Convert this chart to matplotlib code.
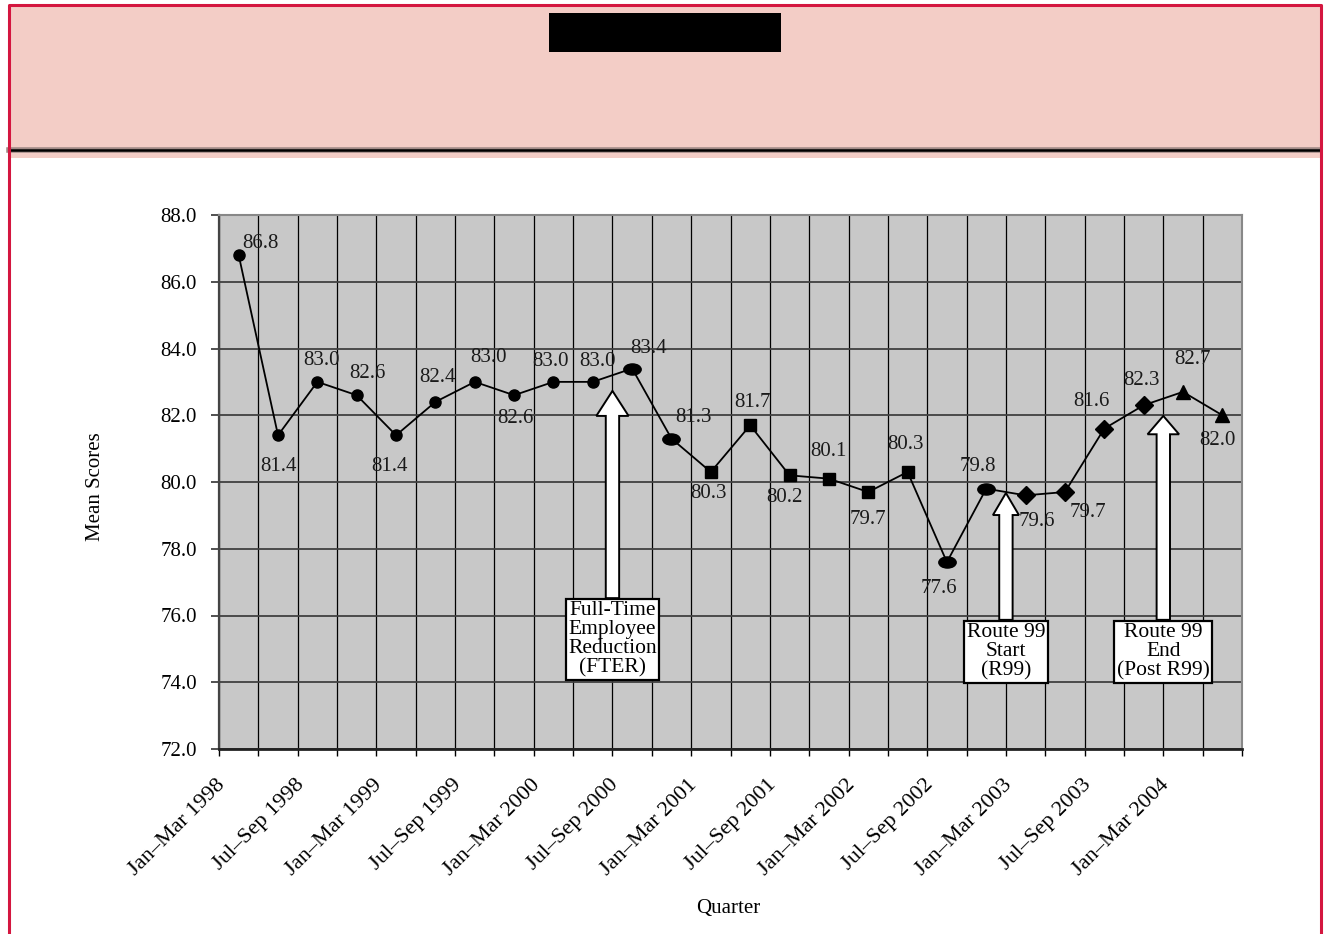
import matplotlib
matplotlib.use('Agg')
import matplotlib.pyplot as plt
import numpy as np
from matplotlib.patches import Rectangle, Polygon
from matplotlib.path import Path
from matplotlib.transforms import Affine2D, ScaledTranslation
from matplotlib.lines import Line2D

plt.rcParams['font.family'] = ['Liberation Serif', 'DejaVu Serif']

# data
quarters = ['Jan–Mar 1998', 'Apr–Jun 1998', 'Jul–Sep 1998', 'Oct–Dec 1998',
            'Jan–Mar 1999', 'Apr–Jun 1999', 'Jul–Sep 1999', 'Oct–Dec 1999',
            'Jan–Mar 2000', 'Apr–Jun 2000', 'Jul–Sep 2000', 'Oct–Dec 2000',
            'Jan–Mar 2001', 'Apr–Jun 2001', 'Jul–Sep 2001', 'Oct–Dec 2001',
            'Jan–Mar 2002', 'Apr–Jun 2002', 'Jul–Sep 2002', 'Oct–Dec 2002',
            'Jan–Mar 2003', 'Apr–Jun 2003', 'Jul–Sep 2003', 'Oct–Dec 2003',
            'Jan–Mar 2004', 'Apr–Jun 2004']
scores = [86.8, 81.4, 83.0, 82.6, 81.4, 82.4, 83.0, 82.6, 83.0, 83.0,
          83.4, 81.3, 80.3, 81.7, 80.2, 80.1, 79.7, 80.3, 77.6, 79.8,
          79.6, 79.7, 81.6, 82.3, 82.7, 82.0]

event_text = ['Full-Time\nEmployee\nReduction\n(FTER)',
              'Route 99\nStart\n(R99)',
              'Route 99\nEnd\n(Post R99)']
event_after = [9, 19, 23]   # arrow sits right after this quarter

# styles
shape = ['o'] * 10 + ['oval'] * 2 + ['s'] * 6 + ['oval'] * 2 + ['D'] * 4 + ['^'] * 2
# label offsets in pixels (dx, dy)
lab_off = [(22, 12), (0, -31), (4, 21), (11, 22), (-7, -31), (2, 24), (14, 24),
           (1, -23), (-3, 20), (5, 20), (16, 20), (22, 21), (-2, -22), (2, 23),
           (-5, -22), (0, 27), (0, -27), (-2, 27), (-8, -26), (-8, 22), (11, -26),
           (23, -20), (-13, 27), (-2, 25), (10, 32), (-5, -25)]
arrow_tip = [82.73, 79.67, 81.98]
box_top = [76.52, 75.87, 75.87]
head_w = [0.82, 0.66, 0.80]
head_l = [0.75, 0.66, 0.55]
shaft_w = 0.34

W, H = 1324, 934
fig = plt.figure(figsize=(W / 100, H / 100), dpi=100)

def fx(px):
    return px / W

def fy(py):
    return 1 - py / H

# header band
fig.patches.append(Rectangle((fx(9), fy(158)), fx(1320 - 9), (158 - 6) / H,
                             transform=fig.transFigure, fc='#f3cdc6', ec='none', zorder=0))
fig.patches.append(Rectangle((fx(549), fy(52)), fx(781 - 549), (52 - 13) / H,
                             transform=fig.transFigure, fc='black', ec='none', zorder=1))
fig.lines.append(Line2D([fx(9), fx(1320)], [fy(149.5), fy(149.5)], transform=fig.transFigure,
                        color='#a08a86', lw=4, zorder=1))
fig.lines.append(Line2D([fx(9), fx(1320)], [fy(149.5), fy(149.5)], transform=fig.transFigure,
                        color='black', lw=1.8, zorder=2))
red = '#d4163f'
fig.lines.append(Line2D([fx(9), fx(9), fx(1321), fx(1321)], [0, fy(5), fy(5), 0],
                        transform=fig.transFigure, color=red, lw=2.2, zorder=3))

ax = fig.add_axes([fx(219), fy(749), fx(1242 - 219), (749 - 215) / H])
ax.set_facecolor('#c8c8c8')
x = np.arange(len(scores))
y = np.array(scores)

ax.plot(x, y, color='black', lw=1.3, zorder=3)

oval = Path.unit_circle().transformed(Affine2D().scale(1, 0.64))
mk = {'o': ('o', 8), 'oval': (oval, 12.5), 's': ('s', 9), 'D': ('D', 9), '^': ('^', 10)}
for kind, (m, ms) in mk.items():
    idx = [i for i, s in enumerate(shape) if s == kind]
    ax.plot(x[idx], y[idx], ls='none', marker=m, ms=ms, color='black', zorder=4)

for i, v in enumerate(scores):
    dx, dy = lab_off[i]
    ax.annotate(f'{v:.1f}', (x[i], v), xytext=(dx * 0.72, dy * 0.72), textcoords='offset points',
                ha='center', va='center', fontsize=15, color='#1a1a1a', zorder=5)

# event arrows and boxes
for k, txt in enumerate(event_text):
    cx = event_after[k] + 0.5
    tip, base = arrow_tip[k], box_top[k]
    hw, hl, sw = head_w[k] / 2, head_l[k], shaft_w / 2
    pts = [(cx - sw, base), (cx - sw, tip - hl), (cx - hw, tip - hl), (cx, tip),
           (cx + hw, tip - hl), (cx + sw, tip - hl), (cx + sw, base)]
    ax.add_patch(Polygon(pts, closed=True, fc='white', ec='black', lw=1.4, zorder=6))
    ax.text(cx, base - 0.1, txt, ha='center', va='top', fontsize=15.5, linespacing=1.0,
            bbox=dict(boxstyle='square,pad=0.12', fc='white', ec='black', lw=1.6), zorder=7)

ax.set_xlim(-0.5, 25.5)
ax.set_ylim(72, 88)
ax.set_yticks(np.arange(72, 88.1, 2))
ax.set_yticklabels([f'{t:.1f}' for t in np.arange(72, 88.1, 2)])
ax.set_xticks(x[::2])
ax.set_xticklabels(quarters[::2], rotation=45, ha='right', va='top', rotation_mode='anchor')
ax.set_xticks(np.arange(-0.5, 26, 1), minor=True)
ax.tick_params(axis='x', which='major', length=0, pad=19, labelsize=16)
ax.tick_params(axis='x', which='minor', length=5, width=1, color='black')
ax.tick_params(axis='y', length=6, width=1.2, pad=10, labelsize=15, color='#333333')
shift = ScaledTranslation(-23 / 100, 0, fig.dpi_scale_trans)
for lab in ax.get_xticklabels():
    lab.set_transform(lab.get_transform() + shift)

ax.xaxis.grid(True, which='minor', color='black', lw=0.9)
ax.xaxis.grid(False, which='major')
ax.yaxis.grid(True, which='major', color='#404040', lw=1.3)
ax.set_axisbelow(True)

for side in ['top', 'right']:
    ax.spines[side].set_color('#888888')
    ax.spines[side].set_linewidth(1.5)
ax.spines['left'].set_color('#444444')
ax.spines['left'].set_linewidth(1.6)
ax.spines['bottom'].set_color('#222222')
ax.spines['bottom'].set_linewidth(2)

fig.text(fx(95), fy(487), 'Mean Scores', rotation=90, ha='center', va='center', fontsize=15)
fig.text(fx(728), fy(908), 'Quarter', ha='center', va='center', fontsize=15)

fig.savefig('out.png', dpi=100)
